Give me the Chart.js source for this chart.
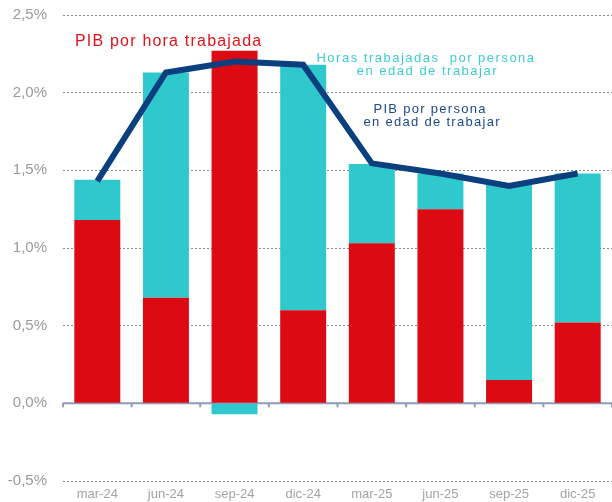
<!DOCTYPE html>
<html>
<head>
<meta charset="utf-8">
<script src="https://cdn.jsdelivr.net/npm/chart.js@4/dist/chart.umd.min.js"></script>
<style>
  html, body { margin: 0; padding: 0; background: #fff; }
  #wrap { width: 612px; height: 502px; }
</style>
</head>
<body>
<div id="wrap"><canvas id="barChart"></canvas></div>
<script>
// quarters
const labels = ['mar-24', 'jun-24', 'sep-24', 'dic-24', 'mar-25', 'jun-25', 'sep-25', 'dic-25'];
// PIB por hora trabajada (red)
const pibHora = [1.18, 0.68, 2.27, 0.60, 1.03, 1.25, 0.15, 0.52];
// Horas trabajadas por persona en edad de trabajar (teal)
const horasPersona = [0.26, 1.45, -0.07, 1.58, 0.51, 0.23, 1.26, 0.96];
// PIB por persona en edad de trabajar (line)
const pibPersona = [1.43, 2.13, 2.20, 2.18, 1.545, 1.48, 1.40, 1.48];
const yTicks = [-0.5, 0, 0.5, 1.0, 1.5, 2.0, 2.5];

const fmt = v => v.toFixed(1).replace('.', ',') + '%';

// zero line with small tick marks at category borders
const zeroLine = {
  id: 'zeroLine',
  beforeDatasetsDraw(chart) {
    const { ctx, chartArea, scales: { x, y } } = chart;
    const y0 = y.getPixelForValue(0);
    ctx.save();
    ctx.strokeStyle = '#8e9bb7';
    ctx.lineWidth = 2;
    ctx.beginPath();
    ctx.moveTo(chartArea.left, y0);
    ctx.lineTo(chartArea.right, y0);
    for (let i = 0; i <= labels.length; i++) {
      const bx = x.getPixelForValue(i - 0.5);
      ctx.moveTo(bx, y0);
      ctx.lineTo(bx, y0 + 4);
    }
    ctx.stroke();
    ctx.restore();
  }
};

// text labels inside the chart
const notes = [
  { text: 'PIB por hora trabajada', x: 1.04, y: 2.33, color: '#e3121b', size: 16, spacing: 1.2 },
  { text: 'Horas trabajadas  por persona', x: 4.79, y: 2.22, color: '#3ccdd1', size: 13, spacing: 1.5 },
  { text: 'en edad de trabajar', x: 4.81, y: 2.135, color: '#3ccdd1', size: 13, spacing: 1.5 },
  { text: 'PIB por persona', x: 4.85, y: 1.89, color: '#1b4a89', size: 13, spacing: 1.3 },
  { text: 'en edad de trabajar', x: 4.88, y: 1.81, color: '#1b4a89', size: 13, spacing: 1.3 }
];

const annotate = {
  id: 'annotate',
  afterDatasetsDraw(chart) {
    const { ctx, scales: { x, y } } = chart;
    ctx.save();
    ctx.textAlign = 'center';
    ctx.textBaseline = 'middle';
    notes.forEach(n => {
      ctx.font = n.size + 'px "Liberation Sans", Arial, sans-serif';
      ctx.letterSpacing = n.spacing + 'px';
      ctx.fillStyle = n.color;
      ctx.fillText(n.text, x.getPixelForValue(n.x), y.getPixelForValue(n.y));
    });
    ctx.restore();
  }
};

const config = {
  type: 'bar',
  data: {
    labels: labels,
    datasets: [{
      type: 'line',
      label: 'PIB por persona en edad de trabajar',
      data: pibPersona,
      stack: 'total',
      order: 0,
      borderColor: '#0b3f7e',
      borderWidth: 6,
      pointRadius: 0,
      tension: 0,
      fill: false
    }, {
      label: 'PIB por hora trabajada',
      data: pibHora,
      stack: 'bars',
      order: 1,
      backgroundColor: '#dc0a13',
      barPercentage: 0.67,
      categoryPercentage: 1
    }, {
      label: 'Horas trabajadas por persona en edad de trabajar',
      data: horasPersona,
      stack: 'bars',
      order: 1,
      backgroundColor: '#2ec8cd',
      barPercentage: 0.67,
      categoryPercentage: 1
    }]
  },
  options: {
    responsive: true,
    maintainAspectRatio: false,
    animation: false,
    layout: { padding: { top: 15, right: 0, bottom: 0, left: 0 } },
    plugins: { legend: { display: false }, tooltip: { enabled: false } },
    scales: {
      x: {
        stacked: true,
        afterFit(scale) { scale.height = 21; scale.paddingLeft = 0; scale.paddingRight = 0; },
        grid: { display: false },
        border: { display: false },
        ticks: {
          color: '#a3a3a3',
          font: { family: '"Liberation Sans", Arial, sans-serif', size: 13 },
          padding: -2,
          maxRotation: 0
        }
      },
      y: {
        stacked: true,
        min: -0.5,
        max: 2.5,
        afterFit(scale) { scale.width = 63; scale.paddingTop = 0; scale.paddingBottom = 0; },
        afterBuildTicks(scale) { scale.ticks = yTicks.map(v => ({ value: v })); },
        grid: {
          drawTicks: false,
          color: ctx => ctx.tick && ctx.tick.value === 0 ? 'rgba(0,0,0,0)' : '#8a8a8a',
          lineWidth: 1
        },
        border: { display: false, dash: [2, 2] },
        ticks: {
          color: '#9a9a9a',
          font: { family: '"Liberation Sans", Arial, sans-serif', size: 15 },
          padding: 16,
          callback: v => fmt(v)
        }
      }
    }
  },
  plugins: [zeroLine, annotate]
};

const myChart = new Chart(document.getElementById('barChart'), config);
</script>
</body>
</html>
